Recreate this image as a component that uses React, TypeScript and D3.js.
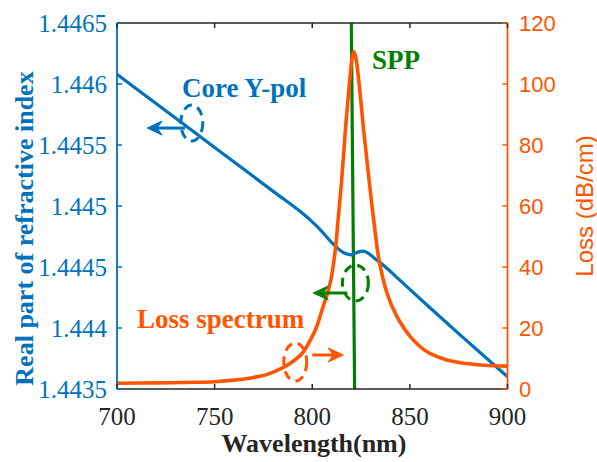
import React from "react";
import * as d3 from "d3";

// ---- data ----
const xTicks = [700, 750, 800, 850, 900];
const leftTicks = [1.4435, 1.444, 1.4445, 1.445, 1.4455, 1.446, 1.4465];
const leftTickLabels = ["1.4435", "1.444", "1.4445", "1.445", "1.4455", "1.446", "1.4465"];
const rightTicks = [0, 20, 40, 60, 80, 100, 120];

const coreWl = [700, 720, 740, 760, 780, 795, 800, 805, 810, 814, 817, 820, 823, 826, 829, 832, 836, 845, 860, 876, 900];
const coreN = [1.44608, 1.44584, 1.4456, 1.44536, 1.44512, 1.44494, 1.44487, 1.44479, 1.4447, 1.44464, 1.44461, 1.4446, 1.44462, 1.44463, 1.44461, 1.44457, 1.44452, 1.44439, 1.44417, 1.44394, 1.4436];

const lossWl = [700, 720, 740, 750, 760, 770, 777, 785, 790, 795, 799, 802, 805, 809.2, 811.8, 813.3, 815, 817, 819, 820.3, 821.2, 822.2, 824, 826.3, 828.5, 830.6, 832.5, 834, 838.3, 843.4, 850.3, 858.8, 869, 876, 888, 900];
const lossDb = [1.9, 2.0, 2.2, 2.4, 2.9, 3.8, 4.8, 7.0, 9.0, 11.8, 16, 20, 25.9, 34.7, 45.6, 56, 68, 85, 100, 108, 110.6, 109, 100, 85, 72, 60, 50, 43, 31.4, 23.7, 17.1, 12.2, 9.5, 8.6, 7.8, 7.5];

const sppWl = [819.95, 821.7];
const sppN = [1.4466, 1.4435];

// annotations in data units
const blueEllipse = { wl: 738.3, n: 1.44568 };
const blueArrow = { from: 734.9, to: 715.4, n: 1.445639 };
const greenEllipse = { wl: 822.1, n: 1.444369 };
const greenArrow = { from: 818, to: 800.5, n: 1.444287 };
const orangeEllipse = { wl: 791.3, loss: 8.85 };
const orangeArrow = { from: 800, to: 815.9, loss: 11.15 };

const BLUE = "#0072BD";
const ORANGE = "#FF5500";
const GREEN = "#008000";
const AX = "#262626";
const SERIF = "Liberation Serif, Times New Roman, serif";
const SANS = "Liberation Sans, Arial, sans-serif";

const W = 597, H = 462;
const L = 117, R = 507.5, T = 23, B = 389;

export default function App() {
  const x = d3.scaleLinear().domain([700, 900]).range([L, R]);
  const yL = d3.scaleLinear().domain([1.4435, 1.4465]).range([B, T]);
  const yR = d3.scaleLinear().domain([0, 120]).range([B, T]);

  const coreLine = d3.line<number>().x((d, i) => x(coreWl[i])).y((d) => yL(d)).curve(d3.curveMonotoneX);
  const lossLine = d3.line<number>().x((d, i) => x(lossWl[i])).y((d) => yR(d)).curve(d3.curveCatmullRom.alpha(0.5));
  const sppLine = d3.line<number>().x((d, i) => x(sppWl[i])).y((d) => yL(d));

  const arrow = (x1: number, x2: number, y: number, color: string) => {
    const dir = x2 > x1 ? 1 : -1;
    const hl = 15, hw = 7, notch = 5;
    const head = `M${x2},${y} L${x2 - dir * hl},${y - hw} L${x2 - dir * (hl - notch)},${y} L${x2 - dir * hl},${y + hw} Z`;
    return (
      <g>
        <line x1={x1} y1={y} x2={x2 - dir * (hl - notch)} y2={y} stroke={color} strokeWidth={3} />
        <path d={head} fill={color} stroke={color} strokeWidth={1} />
      </g>
    );
  };

  const serif = { fontFamily: SERIF };
  const sans = { fontFamily: SANS };

  return (
    <svg width={W} height={H} style={{ position: "fixed", left: 0, top: 0, background: "#fff" }}>
      <defs>
        <clipPath id="plot">
          <rect x={L} y={T} width={R - L} height={B - T} />
        </clipPath>
      </defs>
      <rect x={0} y={0} width={W} height={H} fill="#fff" />

      <g clipPath="url(#plot)" fill="none">
        <path d={sppLine(sppN) || ""} stroke={GREEN} strokeWidth={3.2} />
        <path d={coreLine(coreN) || ""} stroke={BLUE} strokeWidth={3.2} />
        <path d={lossLine(lossDb) || ""} stroke={ORANGE} strokeWidth={3.6} />
      </g>

      {/* axes frame */}
      <line x1={L} y1={T} x2={R} y2={T} stroke={AX} strokeWidth={1.5} />
      <line x1={L} y1={B} x2={R} y2={B} stroke={AX} strokeWidth={1.5} />
      <line x1={L} y1={T} x2={L} y2={B} stroke={BLUE} strokeWidth={1.8} />
      <line x1={R} y1={T} x2={R} y2={B} stroke={ORANGE} strokeWidth={1.8} />

      {/* x ticks */}
      {xTicks.map((t) => (
        <g key={"x" + t}>
          <line x1={x(t)} y1={B} x2={x(t)} y2={B - 5} stroke={AX} strokeWidth={1.5} />
          <line x1={x(t)} y1={T} x2={x(t)} y2={T + 5} stroke={AX} strokeWidth={1.5} />
          <text x={x(t)} y={425} textAnchor="middle" style={serif} fontSize={25} fill={AX}>
            {t}
          </text>
        </g>
      ))}

      {/* left ticks */}
      {leftTicks.map((t, i) => (
        <g key={"l" + t}>
          <line x1={L} y1={yL(t)} x2={L + 5} y2={yL(t)} stroke={BLUE} strokeWidth={1.5} />
          <text x={107} y={yL(t)} dy="0.34em" textAnchor="end" style={serif} fontSize={25} fill={BLUE}>
            {leftTickLabels[i]}
          </text>
        </g>
      ))}

      {/* right ticks */}
      {rightTicks.map((t) => (
        <g key={"r" + t}>
          <line x1={R} y1={yR(t)} x2={R - 5} y2={yR(t)} stroke={ORANGE} strokeWidth={1.5} />
          <text x={519} y={yR(t)} dy="0.36em" textAnchor="start" style={sans} fontSize={22} fill={ORANGE}>
            {t}
          </text>
        </g>
      ))}

      {/* axis labels */}
      <text x={314} y={452} textAnchor="middle" style={serif} fontWeight="bold" fontSize={26} fill={AX}>
        Wavelength(nm)
      </text>
      <text transform="translate(33,228.5) rotate(-90)" textAnchor="middle" style={serif} fontWeight="bold" fontSize={26} fill={BLUE}>
        Real part of refractive index
      </text>
      <text transform="translate(593,206) rotate(-90)" textAnchor="middle" style={sans} fontSize={24} fill={ORANGE}>
        Loss (dB/cm)
      </text>

      {/* annotations */}
      <text x={182} y={97} style={serif} fontWeight="bold" fontSize={27} fill={BLUE}>
        Core Y-pol
      </text>
      <text x={372} y={69} style={serif} fontWeight="bold" fontSize={27} fill={GREEN}>
        SPP
      </text>
      <text x={137} y={328} style={serif} fontWeight="bold" fontSize={27} fill={ORANGE}>
        Loss spectrum
      </text>

      <ellipse cx={x(blueEllipse.wl)} cy={yL(blueEllipse.n)} rx={11} ry={18} fill="none" stroke={BLUE} strokeWidth={3} strokeDasharray="9 6" />
      {arrow(x(blueArrow.from), x(blueArrow.to), yL(blueArrow.n), BLUE)}

      <ellipse cx={x(greenEllipse.wl)} cy={yL(greenEllipse.n)} rx={13} ry={18} fill="none" stroke={GREEN} strokeWidth={3} strokeDasharray="9 6" />
      {arrow(x(greenArrow.from), x(greenArrow.to), yL(greenArrow.n), GREEN)}

      <ellipse cx={x(orangeEllipse.wl)} cy={yR(orangeEllipse.loss)} rx={11.5} ry={19} fill="none" stroke={ORANGE} strokeWidth={3} strokeDasharray="9 6" />
      {arrow(x(orangeArrow.from), x(orangeArrow.to), yR(orangeArrow.loss), ORANGE)}
    </svg>
  );
}
